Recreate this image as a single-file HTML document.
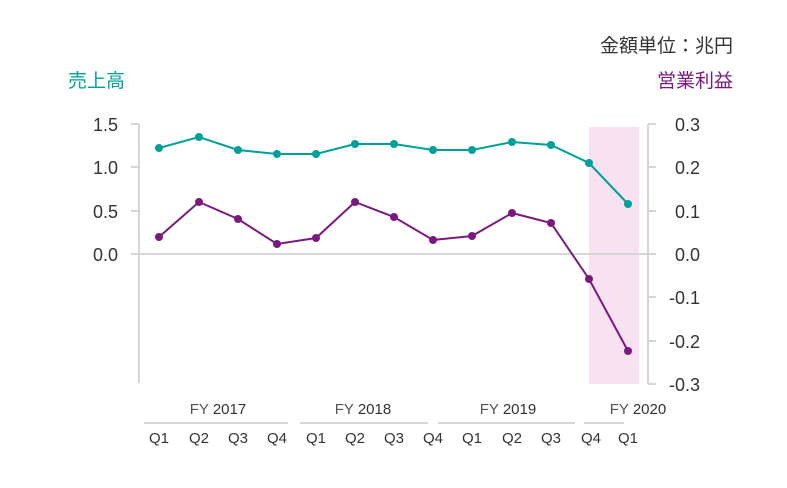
<!DOCTYPE html>
<html><head><meta charset="utf-8"><style>
body{margin:0;background:#fff;}
text{font-family:"Liberation Sans","Noto Sans CJK JP",sans-serif;}
</style></head><body>
<svg width="787" height="483" viewBox="0 0 787 483" xmlns="http://www.w3.org/2000/svg">
<rect width="787" height="483" fill="#fff"/>
<text x="733" y="52" font-size="19" fill="#333" text-anchor="end">金額単位：兆円</text>
<text x="68" y="87" font-size="19" fill="#00a09a">売上高</text>
<text x="733" y="87" font-size="19" fill="#7a1a7e" text-anchor="end">営業利益</text>
<rect x="589" y="127" width="50" height="257" fill="#f8e1f0"/>
<line x1="139" y1="124" x2="139" y2="383" stroke="#d6d6d6" stroke-width="2"/>
<line x1="131" y1="124" x2="139" y2="124" stroke="#d6d6d6" stroke-width="2"/>
<line x1="131" y1="167" x2="139" y2="167" stroke="#d6d6d6" stroke-width="2"/>
<line x1="131" y1="211" x2="139" y2="211" stroke="#d6d6d6" stroke-width="2"/>
<line x1="131" y1="254" x2="648" y2="254" stroke="#d6d6d6" stroke-width="2"/>
<line x1="648" y1="124" x2="648" y2="384" stroke="#d6d6d6" stroke-width="2"/>
<g stroke="#d6d6d6" stroke-width="2">
<line x1="648" y1="124" x2="656" y2="124"/><line x1="648" y1="167" x2="656" y2="167"/><line x1="648" y1="211" x2="656" y2="211"/><line x1="648" y1="254" x2="656" y2="254"/><line x1="648" y1="297" x2="656" y2="297"/><line x1="648" y1="341" x2="656" y2="341"/><line x1="648" y1="384" x2="656" y2="384"/>
</g>
<g font-size="18" fill="#333" text-anchor="end">
<text x="118" y="131">1.5</text><text x="118" y="174">1.0</text><text x="118" y="218">0.5</text><text x="118" y="261">0.0</text>
</g>
<g font-size="18" fill="#333" text-anchor="end">
<text x="700" y="131">0.3</text><text x="700" y="174">0.2</text><text x="700" y="218">0.1</text><text x="700" y="261">0.0</text><text x="700" y="304">-0.1</text><text x="700" y="348">-0.2</text><text x="700" y="391">-0.3</text>
</g>
<polyline fill="none" stroke="#00a09a" stroke-width="2" points="159,148 199,137 238,150 277,154 316,154 355,144 394,144 433,150 472,150 512,142 551,145 589,163 628,204"/>
<g fill="#00a09a">
<circle cx="159" cy="148" r="4"/><circle cx="199" cy="137" r="4"/><circle cx="238" cy="150" r="4"/><circle cx="277" cy="154" r="4"/><circle cx="316" cy="154" r="4"/><circle cx="355" cy="144" r="4"/><circle cx="394" cy="144" r="4"/><circle cx="433" cy="150" r="4"/><circle cx="472" cy="150" r="4"/><circle cx="512" cy="142" r="4"/><circle cx="551" cy="145" r="4"/><circle cx="589" cy="163" r="4"/><circle cx="628" cy="204" r="4"/>
</g>
<polyline fill="none" stroke="#7a1a7e" stroke-width="2" points="159,237 199,202 238,219 277,244 316,238 355,202 394,217 433,240 472,236 512,213 551,223 589,279 628,351"/>
<g fill="#7a1a7e">
<circle cx="159" cy="237" r="4"/><circle cx="199" cy="202" r="4"/><circle cx="238" cy="219" r="4"/><circle cx="277" cy="244" r="4"/><circle cx="316" cy="238" r="4"/><circle cx="355" cy="202" r="4"/><circle cx="394" cy="217" r="4"/><circle cx="433" cy="240" r="4"/><circle cx="472" cy="236" r="4"/><circle cx="512" cy="213" r="4"/><circle cx="551" cy="223" r="4"/><circle cx="589" cy="279" r="4"/><circle cx="628" cy="351" r="4"/>
</g>
<g stroke="#d6d6d6" stroke-width="2">
<line x1="144" y1="423" x2="288" y2="423"/><line x1="300" y1="423" x2="428" y2="423"/><line x1="438" y1="423" x2="575" y2="423"/><line x1="584" y1="423" x2="624" y2="423"/>
</g>
<g font-size="15" fill="#333" text-anchor="middle">
<text x="218" y="414"><tspan fill="#555">FY </tspan>2017</text>
<text x="363" y="414"><tspan fill="#555">FY </tspan>2018</text>
<text x="508" y="414"><tspan fill="#555">FY </tspan>2019</text>
<text x="638" y="414"><tspan fill="#555">FY </tspan>2020</text>
</g>
<g font-size="15" fill="#333" text-anchor="middle">
<text x="159" y="443">Q1</text><text x="199" y="443">Q2</text><text x="238" y="443">Q3</text><text x="277" y="443">Q4</text>
<text x="316" y="443">Q1</text><text x="355" y="443">Q2</text><text x="394" y="443">Q3</text><text x="433" y="443">Q4</text>
<text x="472" y="443">Q1</text><text x="512" y="443">Q2</text><text x="551" y="443">Q3</text><text x="591" y="443">Q4</text>
<text x="628" y="443">Q1</text>
</g>
</svg>
</body></html>
